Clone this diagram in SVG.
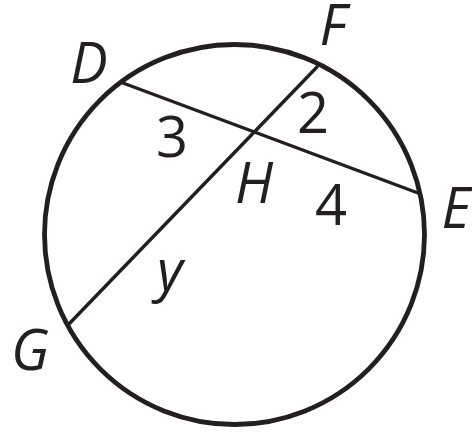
<svg xmlns="http://www.w3.org/2000/svg" width="472" height="432" viewBox="0 0 472 432">
<style>
.c{fill:none;stroke:#231f20;stroke-width:4.8}
.ch{fill:none;stroke:#231f20;stroke-width:3.4;stroke-linecap:round}
.lbl{font-family:"Open Sans","Liberation Sans",sans-serif;font-size:56px;fill:#231f20;text-anchor:middle}
.it{font-style:italic}
</style>
<rect width="472" height="432" fill="#fff"/>
<g id="circle"><ellipse class="c" cx="234.5" cy="234.5" rx="190" ry="190"/></g>
<g id="connectors">
<line class="ch" x1="123" y1="83" x2="418" y2="193"/>
<line class="ch" x1="317" y1="67" x2="68" y2="325"/>
</g>
<g id="D"><text class="lbl it" x="89" y="83">D</text></g>
<g id="F"><text class="lbl it" x="333" y="45">F</text></g>
<g id="E"><text class="lbl it" x="456" y="228">E</text></g>
<g id="G"><text class="lbl it" x="30" y="370">G</text></g>
<g id="H"><text class="lbl it" x="254" y="203">H</text></g>
<g id="labels">
<text class="lbl" x="313" y="133">2</text>
<text class="lbl" x="172" y="157">3</text>
<text class="lbl" x="331" y="225">4</text>
<text class="lbl it" x="170" y="290">y</text>
</g>
</svg>
